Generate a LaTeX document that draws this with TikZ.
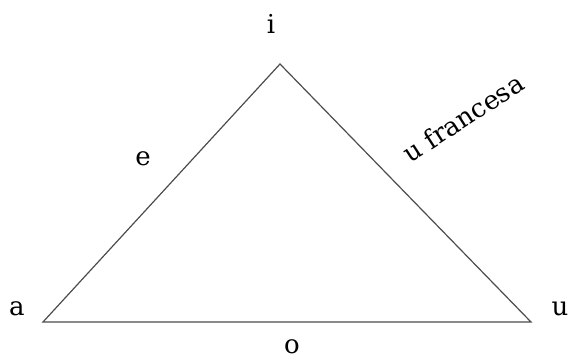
\documentclass[tikz,border=0pt]{standalone}
\usepackage{fontspec}
\setmainfont{DejaVu Serif}
\usepackage{tikz}

\begin{document}
\begin{tikzpicture}[
        x=1pt, y=-1pt,
        vowel/.style={
            font=\fontsize{26}{32}\selectfont,
            inner sep=0pt,
            outer sep=0pt
        },
        side/.style={
            line width=1.2pt,
            black!70
        }
    ]

        \useasboundingbox (0,0) rectangle (569,360);

        \coordinate (top) at (280,64);
        \coordinate (left) at (43,322);
        \coordinate (right) at (531,322);

        \draw[side] (left) -- (top) -- (right) -- cycle;

        \node[vowel] (i) at (271,24) {i};
        \node[vowel] (a) at (17,309) {a};
        \node[vowel] (u) at (560,309) {u};
        \node[vowel] (o) at (292,347) {o};
        \node[vowel] (e) at (143,159) {e};
        \node[vowel, rotate=33] (uf) at (463,118) {u francesa};

    \end{tikzpicture}
\end{document}
